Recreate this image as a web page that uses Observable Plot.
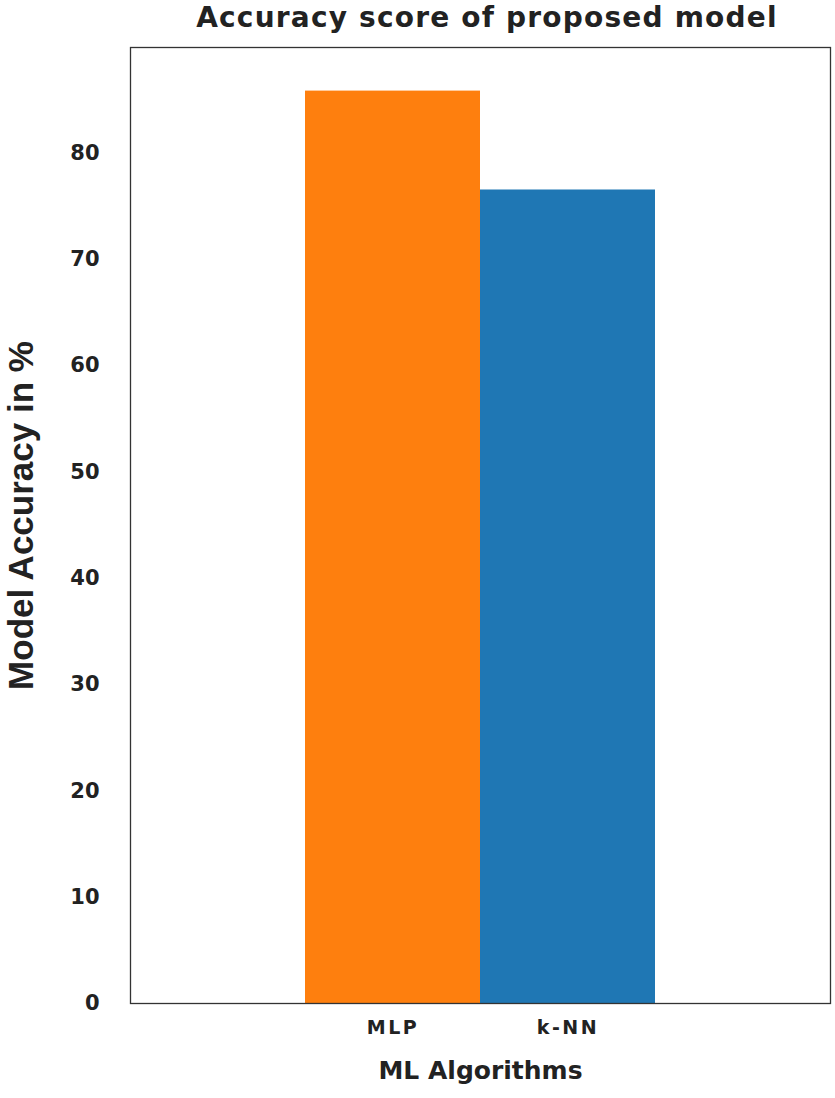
<!DOCTYPE html>
<html>
<head>
<meta charset="utf-8">
<script src="https://cdn.jsdelivr.net/npm/d3@7"></script>
<script src="https://cdn.jsdelivr.net/npm/@observablehq/plot@0.6"></script>
<style>
  html, body { margin: 0; padding: 0; background: #fff; }
  #title { width: 700px; margin-left: 137px; height: 38px; text-align: center; font-family: "DejaVu Sans", sans-serif; font-weight: bold; font-size: 28px; line-height: 36px; color: #222; letter-spacing: 1.2px; white-space: nowrap; }
  svg { display: block; }
  g[aria-label="x-axis tick label"] text { letter-spacing: 2.5px; }
  g[aria-label="x-title"] text { letter-spacing: 1px; }
</style>
</head>
<body>
<div id="title">Accuracy score of proposed model</div>
<div id="chart"></div>
<script>
const algorithms = ["MLP", "k-NN"];
const accuracy = [85.8, 76.5];
const barColors = ["#fe7f0e", "#1f77b4"];
const yTicks = [0, 10, 20, 30, 40, 50, 60, 70, 80];
const yLabel = "Model Accuracy in %";
const xLabel = "ML Algorithms";

const data = algorithms.map((a, i) => ({algorithm: a, accuracy: accuracy[i], color: barColors[i]}));

const wide = "DejaVu Sans, sans-serif";
const narrow = "Liberation Sans, Arial, sans-serif";

const chart = Plot.plot({
  width: 835,
  height: 1060,
  marginTop: 9,
  marginLeft: 130,
  marginRight: 5,
  marginBottom: 95,
  style: {fontFamily: wide, color: "#222", background: "#fff"},
  x: {domain: algorithms, paddingInner: 0, paddingOuter: 1, label: null},
  y: {domain: [0, 89.9], label: null},
  marks: [
    Plot.barY(data, {x: "algorithm", y: "accuracy", fill: "color"}),
    Plot.frame({stroke: "#333", strokeWidth: 1.3}),
    Plot.axisY({ticks: yTicks, tickSize: 0, tickPadding: 31, fontSize: 21, fontWeight: "bold", label: null}),
    Plot.axisX({tickSize: 0, tickPadding: 17, fontSize: 19, fontWeight: "bold", label: null}),
    Plot.text([yLabel], {frameAnchor: "left", textAnchor: "middle", rotate: -90, dx: -109, dy: -10, fontSize: 35, fontWeight: "bold", fontFamily: narrow, fill: "#222", ariaLabel: "y-title"}),
    Plot.text([xLabel], {frameAnchor: "bottom", dy: 75, fontSize: 25, fontWeight: "bold", fill: "#222", ariaLabel: "x-title"})
  ]
});
document.getElementById("chart").appendChild(chart);
</script>
</body>
</html>
